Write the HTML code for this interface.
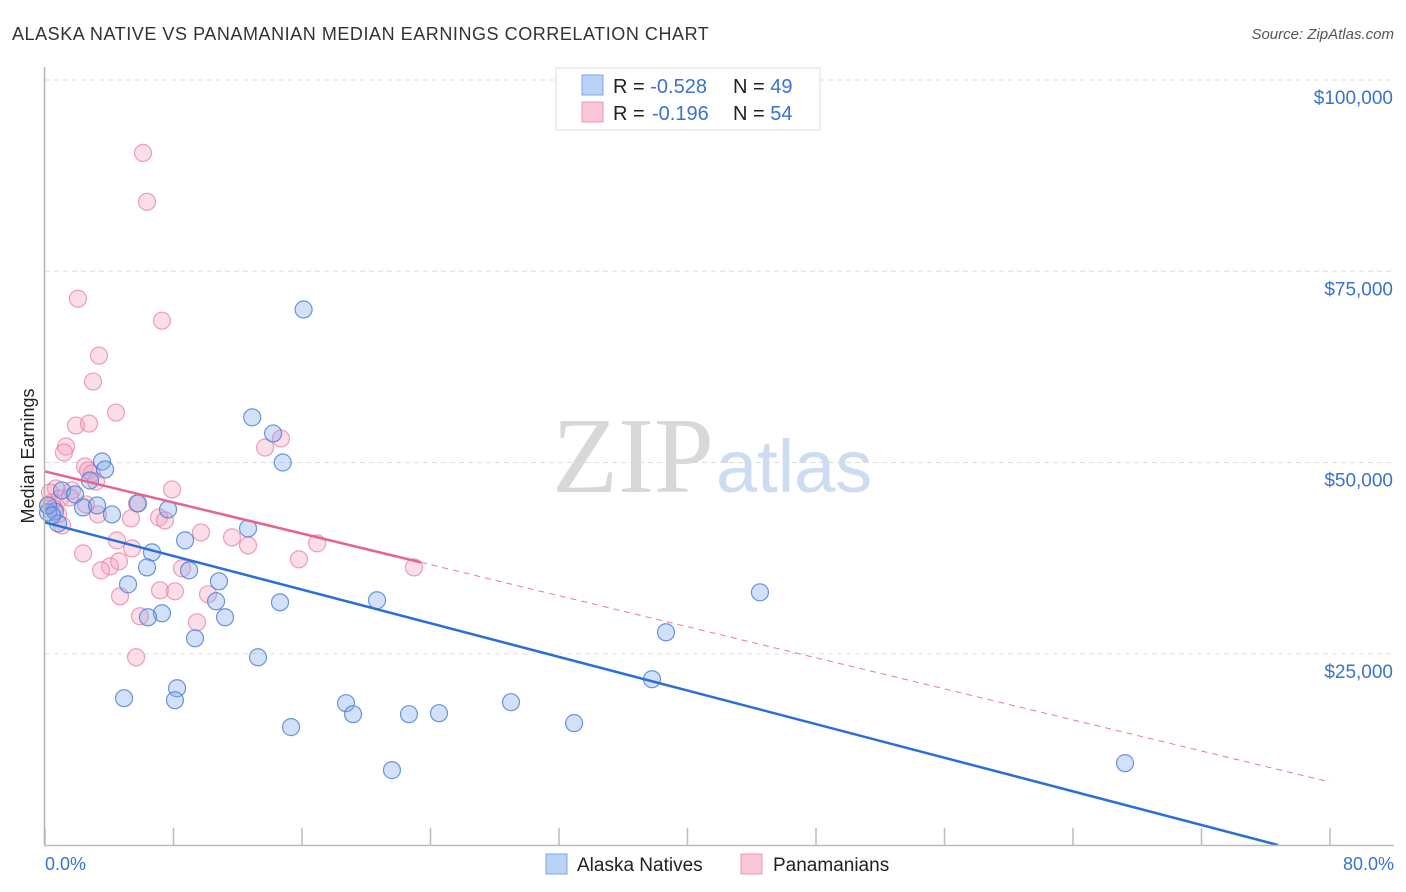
<!DOCTYPE html>
<html><head><meta charset="utf-8"><style>
body{margin:0;background:#fff;font-family:"Liberation Sans",sans-serif;}
#c{position:relative;width:1406px;height:892px;}
svg{position:absolute;left:0;top:0;}
</style></head><body>
<div id="c">
<svg width="1406" height="892" id="svg">
<text x="12" y="40" font-size="18" fill="#333" letter-spacing="0.55">ALASKA NATIVE VS PANAMANIAN MEDIAN EARNINGS CORRELATION CHART</text>
<text x="1394" y="39" font-size="15" fill="#555" font-style="italic" text-anchor="end">Source: ZipAtlas.com</text>
<text x="714" y="492" font-size="108" fill="#d8d8d8" text-anchor="end" font-family="Liberation Serif,serif">ZIP</text>
<text x="716" y="492" font-size="74" fill="#cddcf0">atlas</text>
<text x="34" y="456" font-size="18" fill="#222" text-anchor="middle" transform="rotate(-90 34 456)">Median Earnings</text>
<g id="grid"></g><g id="marks"></g>
<line x1="44.5" y1="67" x2="44.5" y2="845" stroke="#b5b5b5" stroke-width="1.5"/>
<line x1="44" y1="845.5" x2="1394" y2="845.5" stroke="#bbb" stroke-width="1.5"/>
<text x="45" y="870" font-size="18" fill="#3a72d0">0.0%</text>
<text x="1394" y="870" font-size="18" fill="#3a72d0" text-anchor="end">80.0%</text>
<g>
<rect x="556" y="68" width="264" height="62" fill="#fff" stroke="#ddd"/>
<rect x="582" y="75" width="21" height="20" fill="#b9d2f5" stroke="#7ea6e4"/>
<rect x="582" y="102" width="21" height="20" fill="#fbc6d6" stroke="#ea9ab5"/>
<text x="613" y="93" font-size="20" fill="#222">R = <tspan fill="#3a72d0">-0.528</tspan><tspan x="733">N = </tspan><tspan fill="#3a72d0">49</tspan></text>
<text x="613" y="120" font-size="20" fill="#222">R = <tspan fill="#3a72d0" x="652">-0.196</tspan><tspan x="733">N = </tspan><tspan fill="#3a72d0">54</tspan></text>
</g>
<g>
<rect x="546" y="854" width="21" height="20" fill="#b9d2f5" stroke="#7ea6e4"/>
<text x="577" y="871" font-size="19" fill="#222">Alaska Natives</text>
<rect x="741" y="854" width="21" height="20" fill="#fbc6d6" stroke="#ea9ab5"/>
<text x="773" y="871" font-size="19" fill="#222">Panamanians</text>
</g>
</svg></div>
<script>
const yTicks=[25000,50000,75000,100000];
const yTickLabels=["$25,000","$50,000","$75,000","$100,000"];
const xTicks=[0,8,16,24,32,40,48,56,64,72,80];
const blueX=[16.1,12.9,14.2,14.8,3.55,3.74,2.8,1.06,1.87,2.37,3.24,0.62,0.19,0.81,4.17,5.79,7.66,12.64,6.66,8.72,8.97,5.17,10.83,10.65,11.21,14.63,6.35,7.28,6.41,9.34,13.26,8.22,8.09,4.92,15.32,18.74,19.18,20.67,22.66,24.53,29.01,21.6,32.94,38.66,37.79,44.51,67.24,0.19,0.44];
const blueY=[70000,55900,53800,50000,50130,49090,47650,46350,45820,44130,44390,43600,43470,42040,43210,44650,43860,41380,38250,39820,35900,34070,34470,31860,29770,31720,36290,30290,29770,27020,24540,20490,18930,19190,15410,18540,17100,31990,17100,17230,18670,9790,15930,27810,21670,33030,10700,44390,43080];
const pinkX=[6.1,6.35,2.05,7.28,3.36,2.99,4.42,1.93,2.74,1.31,1.18,14.69,13.7,2.49,2.68,2.93,3.18,1.68,0.68,0.31,0.93,0.44,0.19,0.56,1.56,0.81,3.3,1.06,5.73,7.91,5.35,7.1,7.47,9.71,11.64,12.64,15.81,16.94,22.97,4.48,5.42,4.05,3.49,4.61,2.37,8.53,10.15,7.16,8.09,4.67,5.91,9.46,5.67,2.55];
const pinkY=[90470,84070,71410,68540,63970,60580,56530,54830,55090,52090,51310,53130,51960,49480,48960,48560,47520,46350,46610,46080,45300,44780,44390,44000,45430,43210,43210,41780,44650,46480,42690,42820,42430,40860,40210,39170,37340,39430,36290,39820,38770,36420,35900,37080,38120,36160,32770,33290,33160,32510,29900,29110,24540,44520];
const blueLine=[0,42170,76.76,0];
const pinkLine=[0,48830,23.4,80,8230];
const NS='http://www.w3.org/2000/svg';
const X=v=>45+v/80*1285, Y=v=>845-v/100000*765;
function mk(t,a,p){const e=document.createElementNS(NS,t);for(const k in a)e.setAttribute(k,a[k]);p.appendChild(e);return e;}
const grid=document.getElementById('grid'),marks=document.getElementById('marks'),svg=document.getElementById('svg');
yTicks.forEach((v,i)=>{
 const l=mk('line',{x1:45,x2:1394,y1:Y(v),y2:Y(v),stroke:'#ddd','stroke-dasharray':'5,4'},grid);
 
 
 const t=mk('text',{x:1393,y:Y(v)+24,'font-size':19,fill:'#3a72d0','text-anchor':'end'},svg);
 t.textContent=yTickLabels[i];
 
 
});
xTicks.forEach(v=>{
 const l=mk('line',{x1:X(v),x2:X(v),y1:828,y2:845,stroke:'#bbb','stroke-width':1.5},grid);
 
 
});
pinkX.forEach((x,i)=>{
 const c=mk('circle',{cx:X(x),cy:Y(pinkY[i]),r:8.5,fill:'rgba(245,160,188,0.35)',stroke:'rgba(230,130,165,0.75)','stroke-width':1.2},marks);
 
 
});
blueX.forEach((x,i)=>{
 const c=mk('circle',{cx:X(x),cy:Y(blueY[i]),r:8.5,fill:'rgba(130,170,235,0.35)',stroke:'rgba(70,125,215,0.8)','stroke-width':1.2},marks);
 
 
});
const pd=mk('line',{x1:X(pinkLine[2]),y1:Y(pinkLine[1]+(pinkLine[4]-pinkLine[1])*pinkLine[2]/pinkLine[3]),x2:X(pinkLine[3]),y2:Y(pinkLine[4]),stroke:'#e8799f','stroke-width':1,'stroke-dasharray':'6,5'},marks);


const ps=mk('line',{x1:X(pinkLine[0]),y1:Y(pinkLine[1]),x2:X(pinkLine[2]),y2:Y(pinkLine[1]+(pinkLine[4]-pinkLine[1])*pinkLine[2]/pinkLine[3]),stroke:'#e5648f','stroke-width':2.5},marks);


const bl=mk('line',{x1:X(blueLine[0]),y1:Y(blueLine[1]),x2:X(blueLine[2]),y2:Y(blueLine[3]),stroke:'#2a6fd6','stroke-width':2.5},marks);


</script>
</body></html>
